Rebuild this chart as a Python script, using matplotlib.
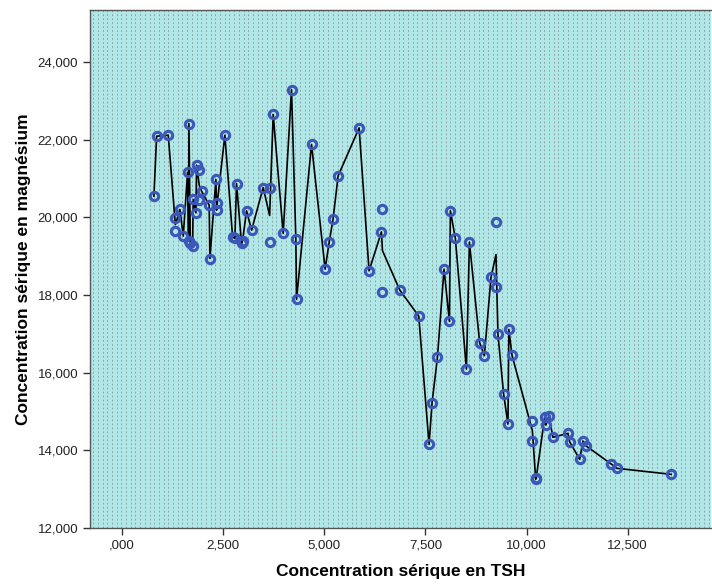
import numpy as np
import matplotlib
matplotlib.use("Agg")
import matplotlib.pyplot as plt

plt.rcParams['font.family'] = ['Liberation Sans', 'DejaVu Sans']

# Data (TSH, magnesium)
tsh = [0.790, 0.857, 1.144, 1.320, 1.320, 1.433, 1.515, 1.622, 1.655, 1.647,
       1.690, 1.746, 1.762, 1.828, 1.845, 1.910, 1.910, 1.968, 2.156, 2.174,
       2.322, 2.339, 2.354, 2.544, 2.734, 2.791, 2.832, 2.956, 2.981, 3.080,
       3.204, 3.491, 3.650, 3.650, 3.738, 3.985, 4.191, 4.298, 4.315, 4.686,
       5.022, 5.121, 5.219, 5.343, 5.862, 6.108, 6.414, 6.439, 6.439, 6.868,
       7.336, 7.591, 7.665, 7.798, 7.961, 8.094, 8.118, 8.241, 8.514, 8.588,
       8.842, 8.958, 9.122, 9.245, 9.245, 9.294, 9.435, 9.541, 9.563, 9.640,
       10.145, 10.145, 10.226, 10.240, 10.448, 10.480, 10.554, 10.653, 11.024, 11.066,
       11.313, 11.395, 11.478, 12.095, 12.233, 13.577]
mg = [20.546, 22.090, 22.116, 19.972, 19.653, 20.203, 19.517, 21.163, 22.417, 19.400,
      19.330, 19.259, 20.460, 20.117, 21.344, 21.215, 20.443, 20.675, 20.314, 18.940,
      20.975, 20.185, 20.357, 22.116, 19.500, 19.457, 20.871, 19.328, 19.400, 20.168,
      19.670, 20.768, 20.744, 19.354, 22.649, 19.585, 23.292, 19.447, 17.887, 21.877,
      18.667, 19.354, 19.962, 21.068, 22.304, 18.623, 19.627, 20.203, 18.083, 18.126,
      17.457, 14.154, 15.225, 16.394, 18.667, 17.321, 20.168, 19.457, 16.093, 19.362,
      16.771, 16.437, 18.453, 19.868, 18.212, 16.986, 15.442, 14.677, 17.114, 16.453,
      14.763, 14.248, 13.254, 13.290, 14.849, 14.651, 14.891, 14.335, 14.437, 14.222,
      13.768, 14.239, 14.110, 13.647, 13.537, 13.382]

x_ticks = [0.0, 2.5, 5.0, 7.5, 10.0, 12.5]
y_ticks = [12, 14, 16, 18, 20, 22, 24]

# Interpolation line through the mean of y at each distinct x
tsh_a = np.array(tsh)
mg_a = np.array(mg)
ux = np.unique(tsh_a)
uy = np.array([mg_a[tsh_a == v].mean() for v in ux])

fig = plt.figure(figsize=(7.12, 5.84), dpi=100)
ax = fig.add_axes([90/712, 1-528/584, 621/712, 518/584])
ax.set_facecolor('#b2e7e7')

# dotted vertical background pattern
xs = np.arange(0.005, 1.0, 4.7/621)
ax.vlines(xs, 0, 1, transform=ax.transAxes, colors='#86a2a2',
          linestyles=(0, (2.0, 2.4)), linewidth=0.65, zorder=0.5)

ax.plot(ux, uy, color='black', lw=1.2, zorder=2)
ax.plot(tsh, mg, linestyle='none', marker='o', ms=6.0, mew=2.2,
        mfc='none', mec='#3b57b8', zorder=3)

ax.set_xlim(-0.79, 14.56)
ax.set_ylim(12, 25.34)

def fmt(v):
    s = f"{v:,.3f}".replace(',', ' ').replace('.', ',').replace(' ', '.')
    if s.startswith('0,'):
        s = s[1:]
    return s

ax.set_xticks(x_ticks)
ax.set_xticklabels([fmt(v) for v in x_ticks])
ax.set_yticks(y_ticks)
ax.set_yticklabels([f"{v},000" for v in y_ticks])

ax.tick_params(axis='both', direction='out', length=5, width=1,
               colors='#333333', labelsize=9.5, labelcolor='#222222')
for s in ['left', 'bottom', 'top']:
    ax.spines[s].set_color('#555555')
    ax.spines[s].set_linewidth(1)
ax.spines['right'].set_visible(False)

ax.set_xlabel('Concentration sérique en TSH', fontsize=12.5,
              fontweight='bold', labelpad=9)
ax.set_ylabel('Concentration sérique en magnésium', fontsize=12.5,
              fontweight='bold', labelpad=5)

fig.savefig('out.png', dpi=100)
